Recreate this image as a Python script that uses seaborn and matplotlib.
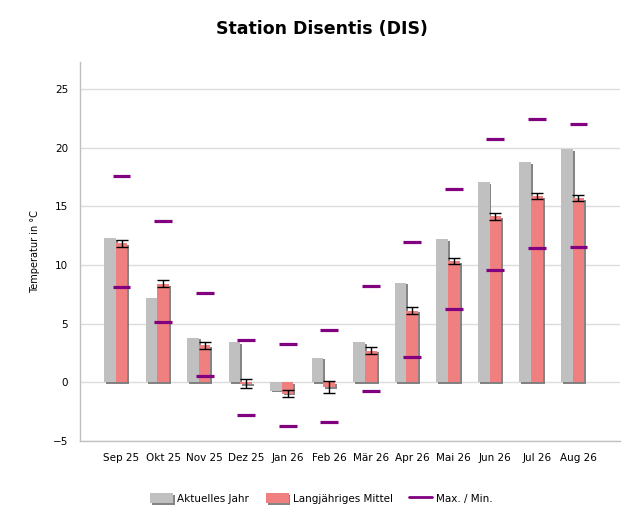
import numpy as np
import pandas as pd
import matplotlib
matplotlib.use("Agg")
import matplotlib.pyplot as plt
import matplotlib.patheffects as pe
from matplotlib.patches import Patch
from matplotlib.lines import Line2D
import seaborn as sns

# Monatswerte Station Disentis
monate = ["Sep 25", "Okt 25", "Nov 25", "Dez 25", "Jan 26", "Feb 26",
          "Mär 26", "Apr 26", "Mai 26", "Jun 26", "Jul 26", "Aug 26"]
aktuell = [12.3, 7.2, 3.8, 3.4, -0.7, 2.1, 3.4, 8.5, 12.2, 17.1, 18.8, 19.9]
mittel = [11.85, 8.4, 3.15, -0.13, -0.96, -0.39, 2.71, 6.11, 10.35, 14.15, 15.9, 15.72]
fehler = [0.32, 0.31, 0.29, 0.39, 0.3, 0.48, 0.29, 0.3, 0.26, 0.29, 0.26, 0.23]
maxima = [17.6, 13.8, 7.6, 3.65, 3.25, 4.45, 8.25, 12.0, 16.5, 20.75, 22.45, 22.05]
minima = [8.15, 5.15, 0.5, -2.75, -3.7, -3.4, -0.75, 2.2, 6.25, 9.55, 11.45, 11.55]
y_ticks = [-5, 0, 5, 10, 15, 20, 25]

GRAU = "#c0c0c0"
ROT = "#f08080"
LILA = "#800080"
SCHATTEN = [pe.SimplePatchShadow(offset=(1.4, -1.2), shadow_rgbFace="#707070", alpha=0.85),
            pe.Normal()]

sns.set_style("white")
plt.rcParams["font.family"] = ["DejaVu Sans"]
plt.rcParams["text.color"] = "black"
plt.rcParams["axes.labelcolor"] = "black"

BREITE = 0.28
pos = np.arange(len(monate))
df = pd.DataFrame({
    "pos": pos,
    "aktuell": aktuell,
    "mittel": mittel,
})
df["pos_grau"] = df["pos"] - BREITE

fig = plt.figure(figsize=(6.43, 5.29), dpi=100)
ax = fig.add_axes([0.1244, 0.1664, 0.9642 - 0.1244, 0.8834 - 0.1664])

sns.barplot(data=df, x="pos_grau", y="aktuell", native_scale=True, orient="x",
            width=BREITE, color=GRAU, saturation=1, ax=ax, zorder=3)
sns.barplot(data=df, x="pos", y="mittel", native_scale=True, orient="x",
            width=BREITE, color=ROT, saturation=1, ax=ax, zorder=3)
for bar in ax.patches:
    bar.set_path_effects(SCHATTEN)
    bar.set_edgecolor("none")

ax.errorbar(pos, mittel, yerr=fehler, fmt="none", ecolor="black",
            elinewidth=1, capsize=4.3, capthick=1, zorder=5)
ax.hlines(maxima, pos - 0.215, pos + 0.215, color=LILA, linewidth=2.3, zorder=6)
ax.hlines(minima, pos - 0.215, pos + 0.215, color=LILA, linewidth=2.3, zorder=6)

ax.set_xlim(-1, 12)
ax.set_ylim(-5, 27.35)
ax.set_xticks(np.arange(-1, 13))
ax.set_xticklabels([""] + monate + [""])
ax.set_yticks(y_ticks)
ax.yaxis.grid(True, color="#dcdcdc", linewidth=1, zorder=0)
ax.set_axisbelow(True)
ax.tick_params(axis="both", labelsize=7.5, colors="#c0c0c0", labelcolor="black",
               length=5, width=1, direction="out")
ax.tick_params(axis="x", pad=4)
for s in ["top", "right"]:
    ax.spines[s].set_visible(False)
for s in ["left", "bottom"]:
    ax.spines[s].set_color("#c0c0c0")
    ax.spines[s].set_linewidth(1)
ax.set_xlabel("")
ax.set_ylabel("Temperatur in °C", fontsize=7, labelpad=9)

fig.suptitle("Station Disentis (DIS)", fontsize=12.5, fontweight="bold", y=0.963,
             color="black")

handles = [
    Patch(facecolor=GRAU, edgecolor="none", label="Aktuelles Jahr", path_effects=SCHATTEN),
    Patch(facecolor=ROT, edgecolor="none", label="Langjähriges Mittel", path_effects=SCHATTEN),
    Line2D([0], [0], color=LILA, linewidth=2, label="Max. / Min."),
]
fig.legend(handles=handles, loc="center", bbox_to_anchor=(0.5, 0.058), ncol=3,
           frameon=False, fontsize=7.5, handlelength=2.2, handleheight=1.1,
           columnspacing=1.6, handletextpad=0.4)

fig.savefig("out.png", dpi=100)
